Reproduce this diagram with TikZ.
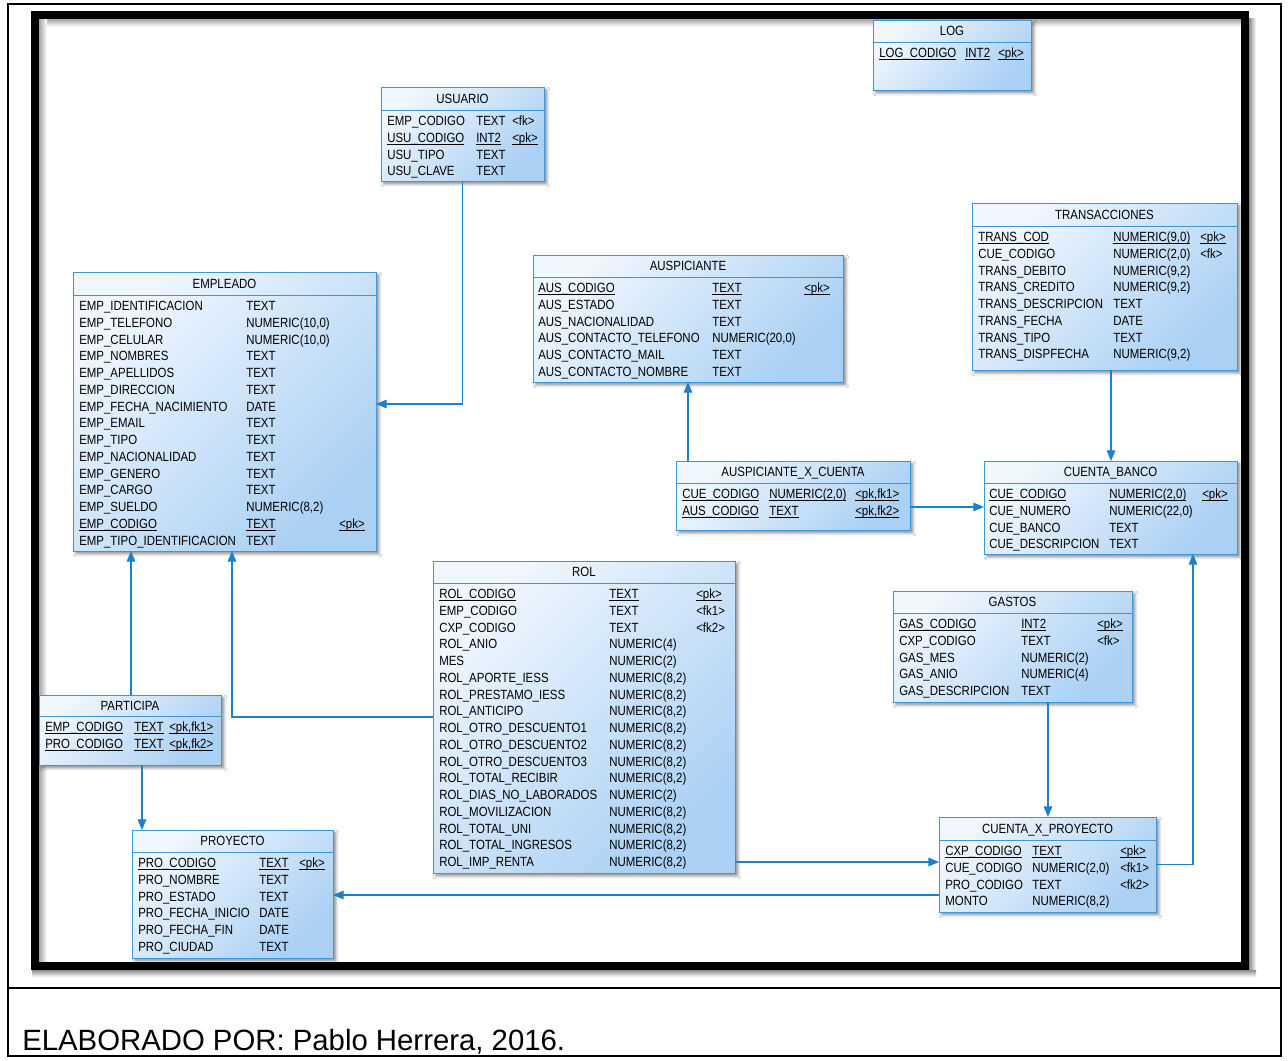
\documentclass[tikz,border=0pt]{standalone}
\usepackage{fontspec}
\setmainfont{Liberation Sans}
\newfontfamily\erfont[FakeStretch=0.86]{Liberation Sans}
\usetikzlibrary{arrows.meta,shadows.blur}

\definecolor{erborder}{RGB}{64,150,212}
\definecolor{erlight}{RGB}{240,247,254}
\definecolor{erblue}{RGB}{170,208,244}
\definecolor{linkblue}{RGB}{30,128,200}

\def\pxunit{0.75pt}

% underline at a fixed depth, so every key column lines up
\newcommand\pkul[1]{\setbox0\hbox{#1}\rlap{\rule[-1.6pt]{\wd0}{0.45pt}}\box0}

% table frame: name, left, top, right, bottom, header rule, title
\newcommand\ertable[7]{%
  \node[tbl, minimum width={(#4-#2)*\pxunit}, minimum height={(#5-#3)*\pxunit}] (#1) at (#2,#3) {};
  \draw[tblrule] (#2,#6) -- (#4,#6);
  \node[ttl] (#1-title) at ({(#2+#4)/2},{(#3+#6)/2+4.7}) {#7};
  \def\curtab{#1}\def\curhy{#6}}
\newcommand\ercols[3]{\def\colA{#1}\def\colB{#2}\def\colC{#3}}
% one attribute row: index, name, type, key
\newcommand\rw[4]{%
  \node[cell] (\curtab-#1a) at (\colA,{\curhy+15.7+16.75*#1}) {#2};
  \node[cell] (\curtab-#1b) at (\colB,{\curhy+15.7+16.75*#1}) {#3};
  \node[cell] (\curtab-#1c) at (\colC,{\curhy+15.7+16.75*#1}) {#4};}

\tikzset{
  tbl/.style={draw=erborder, line width=0.75pt, top color=erlight, bottom color=erblue,
    shading angle=45, anchor=north west, inner sep=0pt, outer sep=0pt,
    blur shadow={shadow xshift=2.2pt, shadow yshift=-2.2pt, shadow blur radius=2.2pt, shadow opacity=45}},
  tblrule/.style={draw=erborder, line width=0.75pt},
  cell/.style={anchor=base west, inner sep=0pt, font=\erfont\fontsize{10pt}{12pt}\selectfont},
  ttl/.style={anchor=base, inner sep=0pt, font=\erfont\fontsize{10pt}{12pt}\selectfont},
  link/.style={draw=linkblue, line width=0.8pt, -{Triangle[length=8pt,width=6.5pt]}},
}

\begin{document}
\begin{tikzpicture}[x=0.75pt, y=-0.75pt]
\useasboundingbox (0,0) rectangle (1288,1060);
\fill[white] (0,0) rectangle (1288,1060);

% outer page frame and caption rule
\draw[line width=1.1pt] (8,4) rectangle (1281,1056);
\draw[line width=1.1pt] (8,988) -- (1281,988);

% heavy frame with its soft shadows
\shade[top color=black!35, bottom color=white] (39,19) rectangle (1241,27);
\shade[left color=black!35, right color=white] (39,19) rectangle (47,962);
\shade[left color=black!45, right color=white] (1249,18) rectangle (1256,974);
\shade[top color=black!45, bottom color=white] (32,970) rectangle (1256,977);
\draw[line width=6pt] (35,15) rectangle (1245,966);

% ---------------- tables ----------------
\ertable{log}{873}{20}{1031}{90}{42}{LOG}
\ercols{879}{965}{998}
\rw{0}{\pkul{LOG\_CODIGO}}{\pkul{INT2}}{\pkul{<pk>}}

\ertable{usu}{381}{87}{544}{181}{110}{USUARIO}
\ercols{387}{476}{512}
\rw{0}{EMP\_CODIGO}{TEXT}{<fk>}
\rw{1}{\pkul{USU\_CODIGO}}{\pkul{INT2}}{\pkul{<pk>}}
\rw{2}{USU\_TIPO}{TEXT}{}
\rw{3}{USU\_CLAVE}{TEXT}{}

\ertable{emp}{73}{272}{376}{551}{295}{EMPLEADO}
\ercols{79}{246}{339}
\rw{0}{EMP\_IDENTIFICACION}{TEXT}{}
\rw{1}{EMP\_TELEFONO}{NUMERIC(10,0)}{}
\rw{2}{EMP\_CELULAR}{NUMERIC(10,0)}{}
\rw{3}{EMP\_NOMBRES}{TEXT}{}
\rw{4}{EMP\_APELLIDOS}{TEXT}{}
\rw{5}{EMP\_DIRECCION}{TEXT}{}
\rw{6}{EMP\_FECHA\_NACIMIENTO}{DATE}{}
\rw{7}{EMP\_EMAIL}{TEXT}{}
\rw{8}{EMP\_TIPO}{TEXT}{}
\rw{9}{EMP\_NACIONALIDAD}{TEXT}{}
\rw{10}{EMP\_GENERO}{TEXT}{}
\rw{11}{EMP\_CARGO}{TEXT}{}
\rw{12}{EMP\_SUELDO}{NUMERIC(8,2)}{}
\rw{13}{\pkul{EMP\_CODIGO}}{\pkul{TEXT}}{\pkul{<pk>}}
\rw{14}{EMP\_TIPO\_IDENTIFICACION}{TEXT}{}

\ertable{aus}{533}{255}{843}{382}{277}{AUSPICIANTE}
\ercols{538}{712}{804}
\rw{0}{\pkul{AUS\_CODIGO}}{\pkul{TEXT}}{\pkul{<pk>}}
\rw{1}{AUS\_ESTADO}{TEXT}{}
\rw{2}{AUS\_NACIONALIDAD}{TEXT}{}
\rw{3}{AUS\_CONTACTO\_TELEFONO}{NUMERIC(20,0)}{}
\rw{4}{AUS\_CONTACTO\_MAIL}{TEXT}{}
\rw{5}{AUS\_CONTACTO\_NOMBRE}{TEXT}{}

\ertable{trans}{972}{203}{1237}{370}{226}{TRANSACCIONES}
\ercols{978}{1113}{1200}
\rw{0}{\pkul{TRANS\_COD}}{\pkul{NUMERIC(9,0)}}{\pkul{<pk>}}
\rw{1}{CUE\_CODIGO}{NUMERIC(2,0)}{<fk>}
\rw{2}{TRANS\_DEBITO}{NUMERIC(9,2)}{}
\rw{3}{TRANS\_CREDITO}{NUMERIC(9,2)}{}
\rw{4}{TRANS\_DESCRIPCION}{TEXT}{}
\rw{5}{TRANS\_FECHA}{DATE}{}
\rw{6}{TRANS\_TIPO}{TEXT}{}
\rw{7}{TRANS\_DISPFECHA}{NUMERIC(9,2)}{}

\ertable{axc}{676}{461}{910}{530}{483}{AUSPICIANTE\_X\_CUENTA}
\ercols{682}{769}{855}
\rw{0}{\pkul{CUE\_CODIGO}}{\pkul{NUMERIC(2,0)}}{\pkul{<pk,fk1>}}
\rw{1}{\pkul{AUS\_CODIGO}}{\pkul{TEXT}}{\pkul{<pk,fk2>}}

\ertable{cb}{984}{461}{1237}{554}{483}{CUENTA\_BANCO}
\ercols{989}{1109}{1202}
\rw{0}{\pkul{CUE\_CODIGO}}{\pkul{NUMERIC(2,0)}}{\pkul{<pk>}}
\rw{1}{CUE\_NUMERO}{NUMERIC(22,0)}{}
\rw{2}{CUE\_BANCO}{TEXT}{}
\rw{3}{CUE\_DESCRIPCION}{TEXT}{}

\ertable{rol}{433}{561}{735}{873}{583}{ROL}
\ercols{439}{609}{696}
\rw{0}{\pkul{ROL\_CODIGO}}{\pkul{TEXT}}{\pkul{<pk>}}
\rw{1}{EMP\_CODIGO}{TEXT}{<fk1>}
\rw{2}{CXP\_CODIGO}{TEXT}{<fk2>}
\rw{3}{ROL\_ANIO}{NUMERIC(4)}{}
\rw{4}{MES}{NUMERIC(2)}{}
\rw{5}{ROL\_APORTE\_IESS}{NUMERIC(8,2)}{}
\rw{6}{ROL\_PRESTAMO\_IESS}{NUMERIC(8,2)}{}
\rw{7}{ROL\_ANTICIPO}{NUMERIC(8,2)}{}
\rw{8}{ROL\_OTRO\_DESCUENTO1}{NUMERIC(8,2)}{}
\rw{9}{ROL\_OTRO\_DESCUENTO2}{NUMERIC(8,2)}{}
\rw{10}{ROL\_OTRO\_DESCUENTO3}{NUMERIC(8,2)}{}
\rw{11}{ROL\_TOTAL\_RECIBIR}{NUMERIC(8,2)}{}
\rw{12}{ROL\_DIAS\_NO\_LABORADOS}{NUMERIC(2)}{}
\rw{13}{ROL\_MOVILIZACION}{NUMERIC(8,2)}{}
\rw{14}{ROL\_TOTAL\_UNI}{NUMERIC(8,2)}{}
\rw{15}{ROL\_TOTAL\_INGRESOS}{NUMERIC(8,2)}{}
\rw{16}{ROL\_IMP\_RENTA}{NUMERIC(8,2)}{}

\ertable{gas}{893}{591}{1132}{702}{613}{GASTOS}
\ercols{899}{1021}{1097}
\rw{0}{\pkul{GAS\_CODIGO}}{\pkul{INT2}}{\pkul{<pk>}}
\rw{1}{CXP\_CODIGO}{TEXT}{<fk>}
\rw{2}{GAS\_MES}{NUMERIC(2)}{}
\rw{3}{GAS\_ANIO}{NUMERIC(4)}{}
\rw{4}{GAS\_DESCRIPCION}{TEXT}{}

\ertable{part}{39}{695}{221}{765}{716}{PARTICIPA}
\ercols{45}{134}{169}
\rw{0}{\pkul{EMP\_CODIGO}}{\pkul{TEXT}}{\pkul{<pk,fk1>}}
\rw{1}{\pkul{PRO\_CODIGO}}{\pkul{TEXT}}{\pkul{<pk,fk2>}}

\ertable{proy}{132}{830}{333}{958}{852}{PROYECTO}
\ercols{138}{259}{299}
\rw{0}{\pkul{PRO\_CODIGO}}{\pkul{TEXT}}{\pkul{<pk>}}
\rw{1}{PRO\_NOMBRE}{TEXT}{}
\rw{2}{PRO\_ESTADO}{TEXT}{}
\rw{3}{PRO\_FECHA\_INICIO}{DATE}{}
\rw{4}{PRO\_FECHA\_FIN}{DATE}{}
\rw{5}{PRO\_CIUDAD}{TEXT}{}

\ertable{cxp}{939}{817}{1156}{912}{840}{CUENTA\_X\_PROYECTO}
\ercols{945}{1032}{1120}
\rw{0}{\pkul{CXP\_CODIGO}}{\pkul{TEXT}}{\pkul{<pk>}}
\rw{1}{CUE\_CODIGO}{NUMERIC(2,0)}{<fk1>}
\rw{2}{PRO\_CODIGO}{TEXT}{<fk2>}
\rw{3}{MONTO}{NUMERIC(8,2)}{}

% ---------------- references ----------------
\draw[link] (usu.south) |- ([yshift=5.625pt]emp.east);
\draw[link] ([xshift=-78.75pt]axc.north) -- ([xshift=-78.75pt]axc.north |- aus.south);
\draw[link] ([yshift=-8.625pt]axc.east) -- ([yshift=-8.625pt]axc.east -| cb.west);
\draw[link] ([xshift=4.875pt]trans.south) -- ([xshift=4.875pt]trans.south |- cb.north);
\draw[link] ([xshift=0.75pt]part.north) -- ([xshift=0.75pt]part.north |- emp.south);
\draw[link] (rol.west) -| ([xshift=5.625pt]emp.south);
\draw[link] ([xshift=9pt]part.south) -- ([xshift=9pt]part.south |- proy.north);
\draw[link] ([yshift=8.25pt]rol.south east) -- ([yshift=8.25pt]rol.south east -| cxp.west);
\draw[link] ([yshift=12.75pt]cxp.south west) -- ([yshift=12.75pt]cxp.south west -| proy.east);
\draw[link] ([xshift=26.6pt]gas.south) -- ([xshift=26.6pt]gas.south |- cxp.north);
\draw[link] (cxp.east) -| ([xshift=61.875pt]cb.south);

% caption
\node[anchor=base west, inner sep=0pt, font=\fontsize{22pt}{26pt}\selectfont] (caption) at (22,1050) {ELABORADO POR: Pablo Herrera, 2016.};
\end{tikzpicture}
\end{document}
